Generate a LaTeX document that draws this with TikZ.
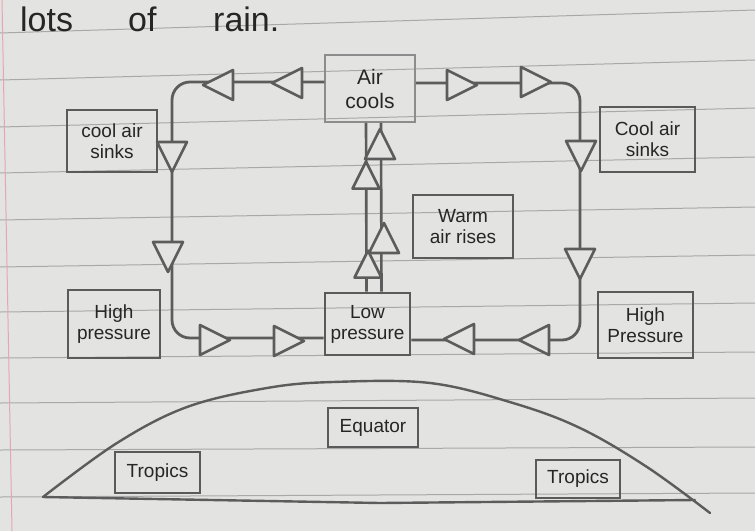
\documentclass[tikz,border=0pt]{standalone}
\usepackage{fontspec}
\setmainfont{Liberation Sans}
\definecolor{paper}{HTML}{E3E3E1}
\definecolor{ruleline}{HTML}{A8A8A8}
\definecolor{marginpink}{HTML}{E3A7B4}
\definecolor{ink}{HTML}{5C5C5C}
\definecolor{boxink}{HTML}{5A5A5A}
\definecolor{lightink}{HTML}{8C8C8C}
\definecolor{pen}{HTML}{262626}
\begin{document}
\begin{tikzpicture}[x=1pt,y=-1pt,
  rule/.style={draw=ruleline, line width=1},
  flow/.style={draw=ink, line width=2.8, rounded corners=18},
  tristyle/.style={draw=ink, line width=2.6, fill=paper, line join=round},
  tri/.pic={\draw[tristyle] (16,0) -- (-14,15) -- (-14,-15) -- cycle;},
  box/.style={draw=boxink, line width=2.8, text=pen, align=center, inner sep=1,
    font=\fontsize{19}{21}\selectfont},
  hill/.style={draw=ink, line width=2.4, line cap=round},
  hand/.style={text=pen, anchor=base west, inner sep=0, font=\fontsize{34}{36}\selectfont}]
\useasboundingbox (0,0) rectangle (755,531);
\fill[paper] (0,0) rectangle (755,531);
% ruled paper
\foreach \a/\b in {33/10,80/60,127/108,173/157,220/207,267/255,312/303,358/352,403/398,450/447,497/493}
  \draw[rule] (0,\a) -- (755,\b);
\draw[draw=marginpink, line width=1] (2,0) -- (12,531);

% heading text
\node[hand] (w1) at (20,31) {lots};
\node[hand] (w2) at (128,31) {of};
\node[hand] (w3) at (213,31) {rain.};

% boxes
\node[box, draw=lightink, line width=1.5, minimum width=90, minimum height=67,
  font=\fontsize{21}{24}\selectfont] (aircools) at (370,88.5) {Air\\cools};
\node[box, minimum width=90, minimum height=62] (cooll) at (112,141) {cool air\\sinks};
\node[box, minimum width=95, minimum height=65] (coolr) at (647.5,139.5) {Cool air\\sinks};
\node[box, minimum width=100, minimum height=63] (warm) at (463,226.5) {Warm\\air rises};
\node[box, minimum width=92, minimum height=68] (highl) at (114,324) {High\\pressure};
\node[box, minimum width=85, minimum height=62] (lowp) at (367.5,324) {Low\\pressure};
\node[box, minimum width=95, minimum height=66] (highr) at (645.5,325) {High\\Pressure};
\node[box, line width=2.4, minimum width=90, minimum height=39] (equator) at (373,427.5) {Equator};
\node[box, minimum width=85, minimum height=41] (tropl) at (157.5,472.5) {Tropics};
\node[box, minimum width=84, minimum height=38] (tropr) at (578,479) {Tropics};

% loop corners
\coordinate (tl) at (172,82);
\coordinate (bl) at (172,338);
\coordinate (tr) at (580,83);
\coordinate (br) at (580,340);

% connectors
\draw[flow] ([yshift=6.5pt]aircools.west) -- (tl) -- (bl) -- ([yshift=-14pt]lowp.west);
\draw[flow] ([yshift=5.5pt]aircools.east) -- (tr) -- (br) -- ([yshift=-16pt]lowp.east);
\draw[draw=ink, line width=2.6] ([xshift=-1pt]lowp.north) -- ([xshift=-4pt]aircools.south);
\draw[draw=ink, line width=2.6] ([xshift=14pt]lowp.north) -- ([xshift=11pt]aircools.south);

% arrow triangles
\pic[rotate=180] at (219,85) {tri};
\pic[rotate=180] at (288,83) {tri};
\pic at (461,85) {tri};
\pic at (535,82) {tri};
\pic[rotate=-90] at (172,156) {tri};
\pic[rotate=-90] at (168,256) {tri};
\pic[rotate=-90] at (581,155) {tri};
\pic[rotate=-90] at (580,263) {tri};
\pic at (214,340) {tri};
\pic at (288,341) {tri};
\pic[rotate=180] at (460,339) {tri};
\pic[rotate=180] at (535,340) {tri};
\pic[rotate=90] at (380,145) {tri};
\pic[rotate=90, scale=0.9] at (366,176) {tri};
\pic[rotate=90] at (384,239) {tri};
\pic[rotate=90, scale=0.9] at (368,265) {tri};

% hill
\draw[hill] plot[smooth, tension=0.6] coordinates {(43,497) (117,443) (187,407) (267,388) (333,382) (430,383) (513,403) (580,428) (647,467) (710,513)};
\draw[hill] (43,497) -- (380,503) -- (695,500);
\end{tikzpicture}
\end{document}
